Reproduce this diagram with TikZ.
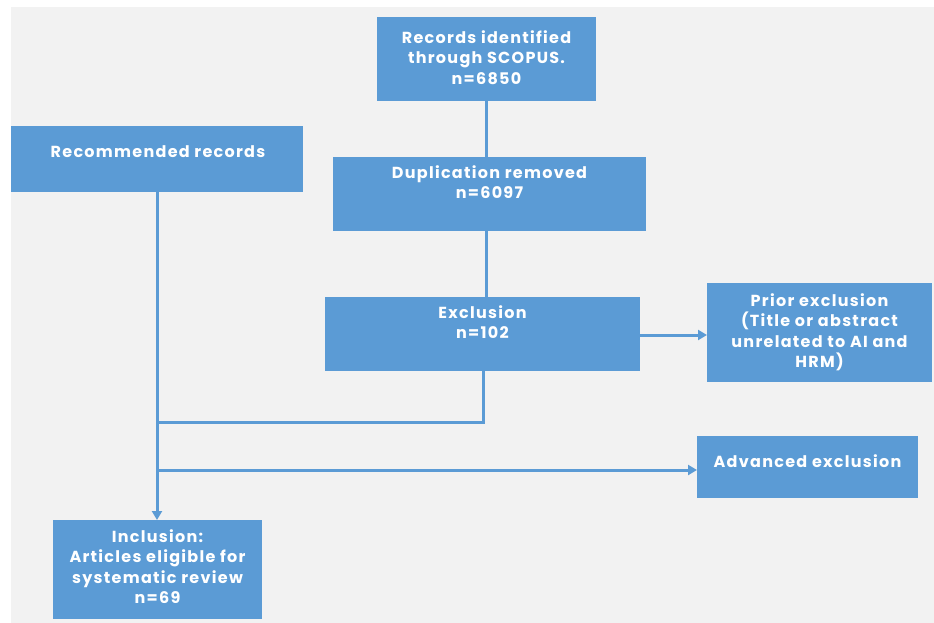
\documentclass[tikz,border=0pt]{standalone}
\usepackage{fontspec}
\setmainfont{Poppins}[LetterSpace=8]
\usetikzlibrary{arrows.meta}
\definecolor{boxblue}{HTML}{5B9BD5}
\definecolor{bg}{HTML}{F2F2F2}
\newcommand{\boxfont}{\bfseries\fontsize{16}{20.5}\selectfont}
\tikzset{
  box/.style={fill=boxblue, draw=none, anchor=north west, inner sep=0pt},
  lbl/.style={font=\boxfont, text=white, align=center, inner sep=0pt},
  conn/.style={draw=boxblue, line width=3pt},
  arr/.style={conn, -{Triangle[length=9pt,width=10pt]}}
}
\begin{document}
\begin{tikzpicture}[x=1pt,y=-1pt]
\useasboundingbox (0,0) rectangle (934,623);
\fill[white] (0,0) rectangle (934,623);
\fill[bg] (11,7) rectangle (934,623);
% boxes
\node[box, minimum width=219pt, minimum height=84pt] (scopus) at (377,17) {};
\node[lbl, anchor=north] (scopusT) at (486.5,30) {Records identified\\through SCOPUS.\\n=6850};
\node[box, minimum width=292pt, minimum height=66pt] (rec) at (11,126) {};
\node[lbl] (recT) at (158,152) {Recommended records};
\node[box, minimum width=313pt, minimum height=74pt] (dup) at (333,157) {};
\node[lbl, anchor=north] (dupT) at (489.5,165) {Duplication removed\\n=6097};
\node[box, minimum width=315pt, minimum height=74pt] (exc) at (325,297) {};
\node[lbl, anchor=north] (excT) at (482.5,305) {Exclusion\\n=102};
\node[box, minimum width=225pt, minimum height=99pt] (prior) at (707,283) {};
\node[lbl, anchor=north] (priorT) at (819.5,293) {Prior exclusion\\(Title or abstract\\unrelated to AI and\\HRM)};
\node[box, minimum width=221pt, minimum height=62pt] (adv) at (697,436) {};
\node[lbl] (advT) at (807.5,461) {Advanced exclusion};
\node[box, minimum width=209pt, minimum height=99pt] (inc) at (53,520) {};
\node[lbl, anchor=north] (incT) at (157.5,529) {Inclusion:\\Articles eligible for\\systematic review\\n=69};
% connectors
\coordinate (j1) at (157,422);
\coordinate (j2) at (157,470);
\draw[conn] (486,101) -- (486,157);
\draw[conn] (486,231) -- (486,297);
\draw[conn] (483,371) |- (j1);
\draw[arr] (157,192) -- (157,520);
\draw[arr] (j2) -- (697,470);
\draw[arr] (640,335) -- (707,335);
\end{tikzpicture}
\end{document}
